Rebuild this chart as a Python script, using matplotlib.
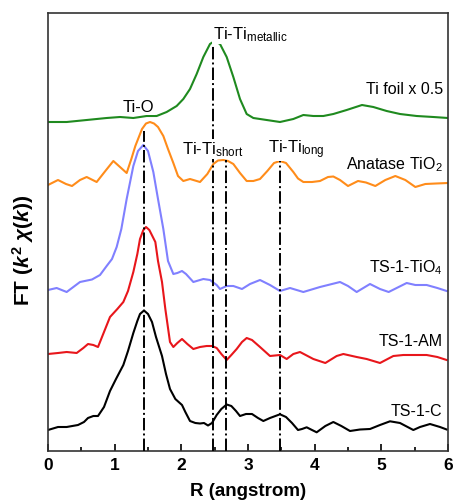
import matplotlib
matplotlib.use("Agg")
import matplotlib.pyplot as plt
from matplotlib.ticker import MultipleLocator

plt.rcParams['font.family'] = ['Liberation Sans', 'DejaVu Sans']
plt.rcParams['mathtext.fontset'] = 'custom'
plt.rcParams['mathtext.rm'] = 'Liberation Sans'
plt.rcParams['mathtext.it'] = 'Liberation Sans:italic:bold'
plt.rcParams['mathtext.bf'] = 'Liberation Sans:bold'

# ---- data (R in angstrom, FT magnitude in arbitrary stacked units) ----
foil_R = [0.0, 0.28, 0.58, 0.88, 1.08, 1.28, 1.48, 1.63, 1.78, 1.93, 2.03, 2.13, 2.23, 2.33, 2.43, 2.5,
          2.58, 2.68, 2.78, 2.88, 2.98, 3.08, 3.28, 3.48, 3.68, 3.83, 3.98, 4.13, 4.28, 4.48, 4.71, 4.88,
          5.08, 5.28, 5.53, 5.78, 6.0]
foil_FT = [329, 329, 331, 333, 334, 333, 335, 335, 339, 345, 352, 362, 377, 394, 407, 410,
           407, 394, 374, 352, 337, 333, 331, 329, 332, 336, 335, 335, 337, 341, 346, 344,
           340, 337, 335, 334, 333]

anat_R = [0.00, 0.15, 0.27, 0.36, 0.48, 0.58, 0.73, 0.86, 0.98, 1.08, 1.18, 1.25, 1.31, 1.41, 1.47, 1.53,
          1.59, 1.65, 1.73, 1.80, 1.88, 1.95, 2.03, 2.13, 2.28, 2.39, 2.48, 2.55, 2.63, 2.70, 2.78, 2.88,
          2.98, 3.08, 3.18, 3.29, 3.39, 3.48, 3.57, 3.68, 3.75, 3.83, 3.96, 4.08, 4.20, 4.28, 4.38, 4.50,
          4.65, 4.77, 4.91, 5.06, 5.21, 5.36, 5.51, 5.66, 5.82, 6.00]
anat_FT = [266, 271, 267, 265, 271, 274, 269, 280, 290, 284, 278, 292, 305, 322, 327.5, 329,
           327.5, 324, 315, 302, 288, 275, 270, 272, 269, 277, 287, 290.5, 291, 290, 287, 278,
           270, 270, 272, 280, 288, 290, 288, 279, 272.5, 269, 269, 270, 274, 274.5, 271, 265,
           270, 268.5, 265, 271, 275, 271, 264, 267, 267.5, 268]

tio4_R = [0.00, 0.13, 0.28, 0.48, 0.66, 0.78, 0.88, 0.96, 1.03, 1.10, 1.18, 1.28, 1.35, 1.43, 1.50, 1.58,
          1.65, 1.73, 1.80, 1.88, 1.94, 2.01, 2.07, 2.18, 2.33, 2.43, 2.53, 2.58, 2.68, 2.78, 2.91, 3.03,
          3.18, 3.33, 3.48, 3.63, 3.83, 4.08, 4.38, 4.50, 4.63, 4.83, 4.98, 5.11, 5.38, 5.51, 5.68, 5.84,
          5.98]
tio4_FT = [161, 163, 159, 169, 171.5, 176, 185, 192, 204, 222, 252, 285, 300, 306, 300, 279,
           252, 222, 190, 177, 178, 180, 177, 169, 172, 171, 166, 162, 165, 165, 162, 167,
           171, 166, 160, 163, 159, 164, 169, 165, 159, 167, 162, 159, 168, 166, 166, 163,
           160]

am_R = [0.00, 0.15, 0.28, 0.43, 0.53, 0.60, 0.68, 0.75, 0.84, 0.93, 1.04, 1.13, 1.20, 1.28, 1.34, 1.38,
        1.43, 1.47, 1.52, 1.61, 1.65, 1.71, 1.76, 1.83, 1.88, 1.94, 2.01, 2.09, 2.18, 2.28, 2.38, 2.46,
        2.53, 2.60, 2.68, 2.75, 2.83, 2.91, 2.98, 3.06, 3.18, 3.33, 3.48, 3.58, 3.68, 3.78, 3.98, 4.16,
        4.33, 4.43, 4.63, 4.78, 4.98, 5.18, 5.33, 5.48, 5.68, 5.84, 5.98]
am_FT = [97, 98, 99, 98, 103, 107, 106, 104, 119, 134, 142, 149, 160, 179, 197, 212,
         221, 224, 221, 209, 190, 169, 142, 109, 104, 108, 112, 107, 102, 104, 105, 105,
         103, 97, 91, 96, 102, 109, 113, 111, 104, 95, 96, 92, 97, 99, 92, 88,
         95, 97, 94, 92, 88, 95, 96, 96, 96, 94, 91]

c_R = [0.00, 0.15, 0.28, 0.45, 0.54, 0.60, 0.68, 0.75, 0.84, 0.93, 1.02, 1.13, 1.20, 1.28, 1.34, 1.38,
       1.44, 1.50, 1.56, 1.62, 1.71, 1.77, 1.83, 1.91, 2.01, 2.06, 2.13, 2.21, 2.28, 2.34, 2.40, 2.46,
       2.53, 2.60, 2.68, 2.75, 2.82, 2.88, 2.97, 3.06, 3.15, 3.23, 3.33, 3.48, 3.57, 3.66, 3.75, 3.81,
       3.88, 3.96, 4.03, 4.16, 4.28, 4.40, 4.53, 4.68, 4.83, 4.98, 5.13, 5.28, 5.48, 5.58, 5.73, 5.88,
       5.98]
c_FT = [21, 24, 24, 26, 29, 33, 35, 35, 44, 60, 72, 86, 100, 118, 130, 137,
        140.5, 137, 129, 114, 95, 77, 62, 52, 46, 39, 30, 28, 27.5, 28, 25.5, 28,
        36, 42, 46.5, 45, 40, 35, 37, 37, 33, 30, 33, 36.7, 34, 28, 21, 22,
        23.7, 21, 18.7, 25, 29, 25, 20, 21.5, 22, 26, 29.7, 28, 21, 24, 27, 24,
        21.5]

series_labels = ['Ti foil x 0.5', 'Anatase TiO$_2$', 'TS-1-TiO$_4$', 'TS-1-AM', 'TS-1-C']
series_colors = ['#1f8a1f', '#ff8c1a', '#8080ff', '#e8161b', '#000000']
label_y = [362, 287, 184, 110, 40]

# reference bond distances (R) and the top of each marker line
ref_R = [1.44, 2.48, 2.67, 3.48]
ref_top = [320, 410, 291, 290]
ref_labels = [('Ti-O', 1.36, 344, 'center'),
              ('Ti-Ti$_{\\mathrm{metallic}}$', 2.47, 417, 'left'),
              ('Ti-Ti$_{\\mathrm{short}}$', 2.01, 302, 'left'),
              ('Ti-Ti$_{\\mathrm{long}}$', 3.3, 302, 'left')]

fig = plt.figure(figsize=(4.53, 5.02), dpi=100)
ax = fig.add_axes([48 / 453, 50 / 502, 400 / 453, 438 / 502])

for R, FT, c in zip([foil_R, anat_R, tio4_R, am_R, c_R],
                    [foil_FT, anat_FT, tio4_FT, am_FT, c_FT], series_colors):
    ax.plot(R, FT, color=c, lw=1.5, solid_joinstyle='round', zorder=2)

for r, top in zip(ref_R, ref_top):
    ax.vlines(r, 0, top, colors='black', linestyles='-.', lw=1.4, zorder=3)

for txt, x, y, ha in ref_labels:
    ax.text(x, y, txt, fontsize=12, ha=ha, va='center', zorder=5,
            bbox=dict(facecolor='white', edgecolor='none', pad=0.5))

for lab, y in zip(series_labels, label_y):
    ax.text(5.92, y, lab, fontsize=11.5, ha='right', va='center')

ax.set_xlim(0, 6)
ax.set_ylim(0, 438)
ax.set_yticks([])
ax.xaxis.set_major_locator(MultipleLocator(1))
ax.xaxis.set_minor_locator(MultipleLocator(0.5))
ax.tick_params(axis='x', which='major', direction='in', length=5, width=1.2,
               labelsize=12.5, pad=4)
ax.tick_params(axis='x', which='minor', direction='in', length=3, width=1.2)
for lbl in ax.get_xticklabels():
    lbl.set_fontweight('bold')
for sp in ax.spines.values():
    sp.set_linewidth(1.2)
    sp.set_color('#333333')

ax.set_xlabel('R (angstrom)', fontsize=13.5, fontweight='bold')
ax.xaxis.set_label_coords(0.5, -0.07)
ax.xaxis.label.set_verticalalignment('top')
ax.set_ylabel(r'FT ($k^{\mathbf{2}}$ $\chi$($k$))', fontsize=15, fontweight='bold')
ax.yaxis.set_label_coords(-0.03, 0.461)

fig.savefig('out.png', dpi=100)
